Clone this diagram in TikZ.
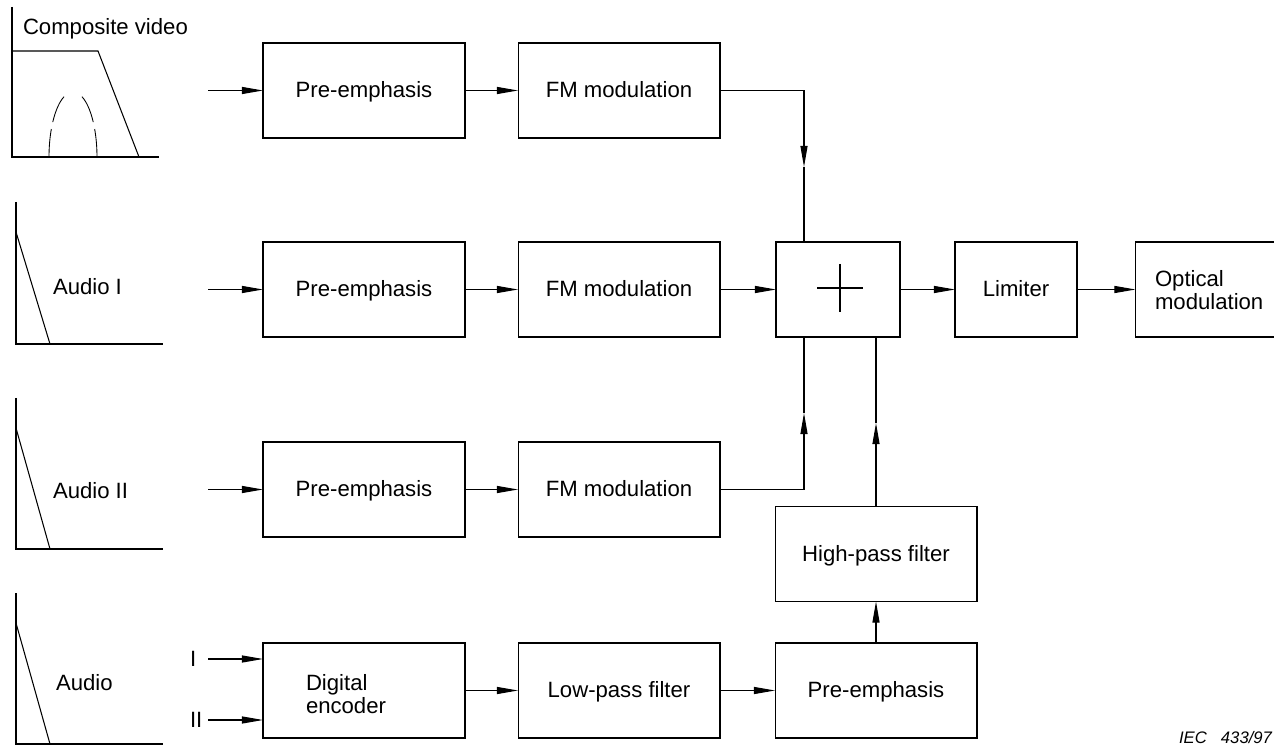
\documentclass[tikz,border=0pt]{standalone}
\usepackage{fontspec}
\setmainfont{Liberation Sans}
\usetikzlibrary{arrows.meta}

\begin{document}
\begin{tikzpicture}[x=0.02cm,y=-0.02cm,line width=0.6pt,
  >={Triangle[length=12pt,width=4pt]},
  block/.style={draw,minimum width=4.04cm,minimum height=1.9cm,text height=9pt,text depth=1pt},
  lbl/.style={font=\fontsize{12.6}{13.5}\selectfont}]
\tikzstyle{every node}+=[inner sep=0pt,outer sep=0pt,lbl]
\useasboundingbox (0,0) rectangle (1274,749);
% spectra
\draw (12,7) -- (12,157) -- (159,157);
\draw (12,51) -- (98,51) -- (139,157);
\draw [dash pattern=on 16pt off 4pt,line width=0.5pt] (49,157) arc (180:248:24 and 65);
\draw [dash pattern=on 16pt off 4pt,line width=0.5pt] (97,157) arc (0:-68:24 and 65);
\node (cv) [anchor=base west] at (23,35) {Composite video};
\foreach \t/\b in {202/344,398/549,593/744} {
  \draw (16,\t) -- (16,\b) -- (163,\b);
  \draw (16,\t+30) -- (50,\b);
}
\node (aud1) [anchor=west] at (53,287) {Audio I};
\node (aud2) [anchor=west] at (53,491) {Audio II};
\node (aud) [anchor=west] at (56,683) {Audio};
\node (inI) [anchor=west] at (190,659) {I};
\node (inII) [anchor=west] at (190,720) {II};
% blocks
\node (pre1) [block] at (364,90.5) {Pre-emphasis};
\node (fm1) [block] at (619,90.5) {FM modulation};
\node (pre2) [block] at (364,289.5) {Pre-emphasis};
\node (fm2) [block] at (619,289.5) {FM modulation};
\node (pre3) [block] at (364,489.5) {Pre-emphasis};
\node (fm3) [block] at (619,489.5) {FM modulation};
\node (enc) [block] at (364,690.5) {};
\node (enctxt) [anchor=west,align=left] at (306,694) {Digital\\encoder};
\node (lpf) [block] at (619,690.5) {Low-pass filter};
\node (pre4) [block] at (876,690.5) {Pre-emphasis};
\node (hpf) [block] at (876,554) {High-pass filter};
\node (sum) [block,minimum width=2.48cm] at (838,289.5) {};
\node (lim) [block,minimum width=2.44cm] at (1016,289.5) {Limiter};
\node (opt) [block,minimum width=2.9cm] at (1208,289.5) {};
\node (opttxt) [anchor=west,align=left] at (1155,290) {Optical\\modulation};
\node (iec) [anchor=base east,font=\fontsize{9.5}{11}\selectfont\itshape] at (1272,743) {IEC\hspace{8pt}433/97};
% cross
\draw (sum.center) +(-21,-1.5) -- +(25,-1.5);
\draw (sum.center) +(2,-25.5) -- +(2,22.5);
% inputs
\coordinate (i1) at (208,90.5);
\coordinate (i2) at (208,289.5);
\coordinate (i3) at (208,489.5);
\coordinate (i4) at (208,659);
\coordinate (i5) at (208,720);
\draw [->] (i1) -- (pre1);
\draw [->] (i2) -- (pre2);
\draw [->] (i3) -- (pre3);
\draw [->] (i4) -- (i4 -| enc.west);
\draw [->] (i5) -- (i5 -| enc.west);
% chains
\draw [->] (pre1) -- (fm1);
\draw [->] (pre2) -- (fm2);
\draw [->] (pre3) -- (fm3);
\draw [->] (enc) -- (lpf);
\draw [->] (lpf) -- (pre4);
\draw [->] (pre4) -- (hpf);
\draw [->] (fm2) -- (sum);
\draw [->] (sum) -- (lim);
\draw [->] (lim) -- (opt);
% into the adder
\coordinate (t1) at (804,167);
\coordinate (t3) at (804,413);
\coordinate (t5) at (876,423);
\draw [->] (fm1.east) -| (t1);
\draw (t1) -- (t1 |- sum.north);
\draw [->] (fm3.east) -| (t3);
\draw (t3) -- (t3 |- sum.south);
\draw [->] (hpf.north) -- (t5);
\draw (t5) -- (t5 |- sum.south);
\end{tikzpicture}
\end{document}
